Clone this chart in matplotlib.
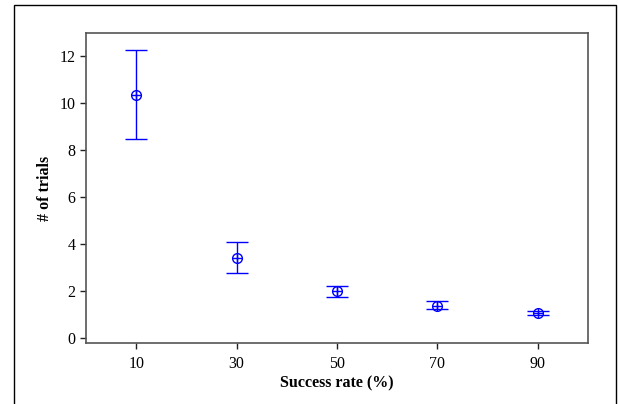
import matplotlib.pyplot as plt
from matplotlib.patches import Rectangle

# success rate (%) vs number of trials
rates = [10, 30, 50, 70, 90]
means = [10.35, 3.42, 2.01, 1.37, 1.08]
upper = [12.28, 4.11, 2.23, 1.57, 1.15]
lower = [8.47, 2.77, 1.74, 1.25, 1.01]

plt.rcParams['font.family'] = ['Liberation Serif', 'DejaVu Serif']

W, H = 618, 404
fig = plt.figure(figsize=(W / 100, H / 100), dpi=100)
ax = fig.add_axes([86 / W, 1 - 343 / H, (588 - 86) / W, (343 - 33) / H])

err_lo = [m - l for m, l in zip(means, lower)]
err_hi = [u - m for m, u in zip(means, upper)]
ax.errorbar(rates, means, yerr=[err_lo, err_hi], fmt='none', ecolor='#0000ff',
            elinewidth=1.0, capsize=7.7, capthick=1.0)
ax.plot(rates, means, 'o', ms=7, mfc='none', mec='#0000ff', mew=1.0)
ax.plot(rates, means, '+', ms=7, mec='#0000ff', mew=1.0)

ax.set_xlim(0, 100)
ax.set_ylim(-0.2, 13)
ax.set_xticks(rates)
ax.set_yticks(range(0, 13, 2))
ax.tick_params(direction='out', length=4, width=1, color='#222222', labelsize=11.5)
ax.tick_params(axis='x', pad=5)

for sp in ax.spines.values():
    sp.set_color('#555555')
    sp.set_linewidth(1.2)

ax.set_xlabel('Success rate (%)', fontsize=11.5, fontweight='bold', labelpad=3)
ax.set_ylabel('# of trials', fontsize=11.5, fontweight='bold', labelpad=5)

# outer frame around the whole chart
fig.add_artist(Rectangle((13.5 / W, -0.1), (616 - 13.5) / W, 1.1 - 5.5 / H,
                         transform=fig.transFigure, fill=False,
                         edgecolor='black', linewidth=1.0))

fig.savefig('out.png', dpi=100)
